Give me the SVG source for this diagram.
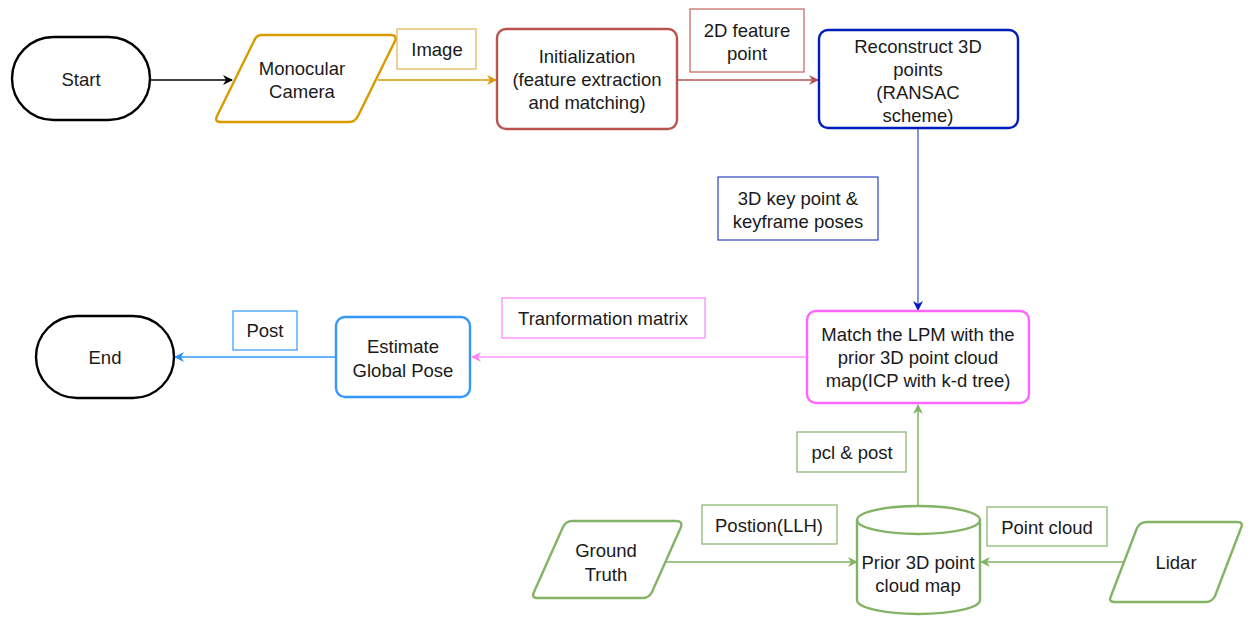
<svg xmlns="http://www.w3.org/2000/svg" width="1253" height="617" viewBox="0 0 1253 617">
<defs>
<style>
text{font-family:"Liberation Sans",Arial,sans-serif;font-size:18.5px;fill:#1a1a1a;text-anchor:middle;dominant-baseline:central}
.node{fill:#fff;stroke-width:2.4}
.lbl{fill:#fff;stroke-width:1.2}
.edge{fill:none;stroke-width:1.5}
</style>
<marker id="aBlack" viewBox="0 0 10 10" refX="9" refY="5" markerWidth="10" markerHeight="10" markerUnits="userSpaceOnUse" orient="auto"><path d="M0,0 L10,5 L0,10 L3,5 Z" fill="#000"/></marker>
<marker id="aOrange" viewBox="0 0 10 10" refX="9" refY="5" markerWidth="10" markerHeight="10" markerUnits="userSpaceOnUse" orient="auto"><path d="M0,0 L10,5 L0,10 L3,5 Z" fill="#d79b00"/></marker>
<marker id="aRed" viewBox="0 0 10 10" refX="9" refY="5" markerWidth="10" markerHeight="10" markerUnits="userSpaceOnUse" orient="auto"><path d="M0,0 L10,5 L0,10 L3,5 Z" fill="#b85450"/></marker>
<marker id="aBlue" viewBox="0 0 10 10" refX="9" refY="5" markerWidth="10" markerHeight="10" markerUnits="userSpaceOnUse" orient="auto"><path d="M0,0 L10,5 L0,10 L3,5 Z" fill="#001dbc"/></marker>
<marker id="aPink" viewBox="0 0 10 10" refX="9" refY="5" markerWidth="10" markerHeight="10" markerUnits="userSpaceOnUse" orient="auto"><path d="M0,0 L10,5 L0,10 L3,5 Z" fill="#ff80ff"/></marker>
<marker id="aSky" viewBox="0 0 10 10" refX="9" refY="5" markerWidth="10" markerHeight="10" markerUnits="userSpaceOnUse" orient="auto"><path d="M0,0 L10,5 L0,10 L3,5 Z" fill="#2f8ff0"/></marker>
<marker id="aGreen" viewBox="0 0 10 10" refX="9" refY="5" markerWidth="10" markerHeight="10" markerUnits="userSpaceOnUse" orient="auto"><path d="M0,0 L10,5 L0,10 L3,5 Z" fill="#82b366"/></marker>
</defs>
<rect width="1253" height="617" fill="#fff"/>

<g id="connectors">
<line class="edge" x1="150" y1="80" x2="232" y2="80" stroke="#000" marker-end="url(#aBlack)"/>
<line class="edge" x1="378" y1="80" x2="496" y2="80" stroke="#d79b00" marker-end="url(#aOrange)"/>
<line class="edge" x1="677" y1="80" x2="818" y2="80" stroke="#b85450" marker-end="url(#aRed)"/>
<line class="edge" x1="918" y1="129" x2="918" y2="310" stroke="#5577c8" marker-end="url(#aBlue)"/>
<line class="edge" x1="807" y1="357" x2="472" y2="357" stroke="#ff99ff" marker-end="url(#aPink)"/>
<line class="edge" x1="336" y1="357" x2="175" y2="357" stroke="#3399ff" marker-end="url(#aSky)"/>
<line class="edge" x1="918" y1="507" x2="918" y2="405" stroke="#82b366" marker-end="url(#aGreen)"/>
<line class="edge" x1="666" y1="562" x2="857" y2="562" stroke="#82b366" marker-end="url(#aGreen)"/>
<line class="edge" x1="1125" y1="562" x2="981" y2="562" stroke="#82b366" marker-end="url(#aGreen)"/>
</g>

<g id="lbl-image"><rect class="lbl" x="397" y="29" width="79" height="40" stroke="#e3b44c"/><text x="437" y="49">Image</text></g>
<g id="lbl-2d"><rect class="lbl" x="690" y="9" width="114" height="63" stroke="#c0625d"/><text x="747" y="30">2D feature</text><text x="747" y="53">point</text></g>
<g id="lbl-3dkey"><rect class="lbl" x="718" y="177" width="160" height="63" stroke="#2a43c2"/><text x="798" y="198">3D key point &amp;</text><text x="798" y="221">keyframe poses</text></g>
<g id="lbl-transform"><rect class="lbl" x="502" y="298" width="203" height="40" stroke="#ff80ff"/><text x="603" y="318">Tranformation matrix</text></g>
<g id="lbl-post"><rect class="lbl" x="233" y="311" width="64" height="39" stroke="#3399ff"/><text x="265" y="330">Post</text></g>
<g id="lbl-pcl"><rect class="lbl" x="797" y="432" width="109" height="40" stroke="#82b366"/><text x="852" y="452">pcl &amp; post</text></g>
<g id="lbl-pos"><rect class="lbl" x="702" y="505" width="135" height="39" stroke="#82b366"/><text x="769" y="525">Postion(LLH)</text></g>
<g id="lbl-pc"><rect class="lbl" x="987" y="507" width="120" height="39" stroke="#82b366"/><text x="1047" y="527">Point cloud</text></g>

<g id="start"><rect class="node" x="12" y="37" width="138" height="83" rx="41.5" stroke="#000"/><text x="81" y="79">Start</text></g>
<g id="camera"><path class="node" d="M262,35 L391,35 Q397,35 395,41 L358,116 Q355,122 349,122 L221,122 Q214,122 217,116 L254,41 Q256,35 262,35 Z" stroke="#d79b00" stroke-linejoin="round"/><text x="302" y="68">Monocular</text><text x="302" y="91">Camera</text></g>
<g id="init"><rect class="node" x="497" y="29" width="180" height="100" rx="9" stroke="#b85450"/><text x="587" y="56">Initialization</text><text x="587" y="79">(feature extraction</text><text x="587" y="102">and matching)</text></g>
<g id="reconstruct"><rect class="node" x="819" y="30" width="199" height="98" rx="9" stroke="#001dbc"/><text x="918" y="46">Reconstruct 3D</text><text x="918" y="69">points</text><text x="918" y="92">(RANSAC</text><text x="918" y="115">scheme)</text></g>
<g id="match"><rect class="node" x="807" y="311" width="222" height="92" rx="9" stroke="#ff66ff"/><text x="918" y="334">Match the LPM with the</text><text x="918" y="357">prior 3D point cloud</text><text x="918" y="380">map(ICP with k-d tree)</text></g>
<g id="estimate"><rect class="node" x="336" y="317" width="134" height="80" rx="9" stroke="#3399ff"/><text x="403" y="346">Estimate</text><text x="403" y="370">Global Pose</text></g>
<g id="end"><rect class="node" x="36" y="316" width="138" height="82" rx="41" stroke="#000"/><text x="105" y="357">End</text></g>
<g id="cylinder"><path class="node" d="M857,520 L857,600 A61.5,14 0 0 0 980,600 L980,520 A61.5,14 0 0 0 857,520 Z" stroke="#82b366"/><path d="M857,520 A61.5,14 0 0 0 980,520" fill="none" stroke="#82b366" stroke-width="2.4"/><text x="918" y="562">Prior 3D point</text><text x="918" y="585">cloud map</text></g>
<g id="ground"><path class="node" d="M572,521 L676,521 Q683,521 681,527 L652,592 Q649,598 643,598 L538,598 Q531,598 534,592 L563,527 Q566,521 572,521 Z" stroke="#82b366" stroke-linejoin="round"/><text x="606" y="550">Ground</text><text x="606" y="574">Truth</text></g>
<g id="lidar"><path class="node" d="M1147,522 L1237,522 Q1244,522 1241,528 L1215,596 Q1212,602 1206,602 L1115,602 Q1108,602 1111,596 L1137,528 Q1140,522 1147,522 Z" stroke="#82b366" stroke-linejoin="round"/><text x="1176" y="562">Lidar</text></g>
</svg>
